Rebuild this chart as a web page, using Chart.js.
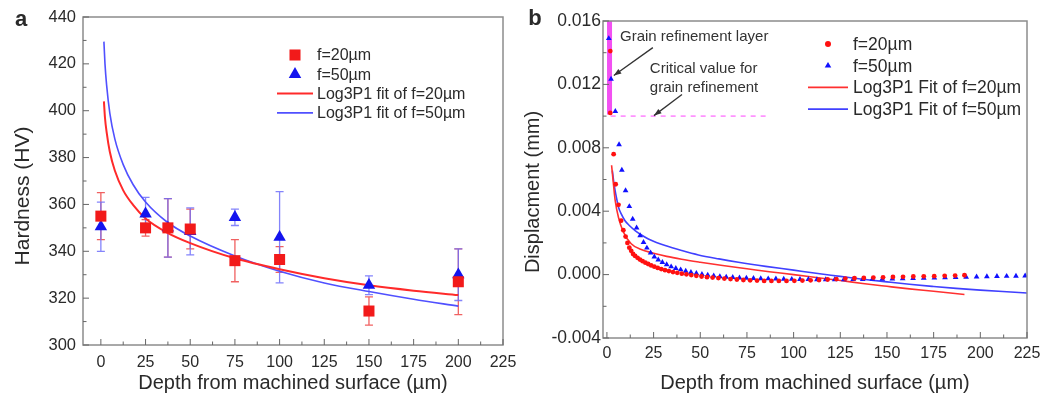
<!DOCTYPE html>
<html>
<head>
<meta charset="utf-8">
<script src="https://cdn.jsdelivr.net/npm/chart.js@4.4.0/dist/chart.umd.min.js"></script>
<style>
html, body { margin: 0; padding: 0; background: #fff; }
#wrap { position: relative; width: 1053px; height: 399px; overflow: hidden; }
canvas { position: absolute; top: 0; }
#chartA { left: 0; }
#chartB { left: 510px; }
</style>
</head>
<body>
<div id="wrap">
  <canvas id="chartA" width="526" height="399"></canvas>
  <canvas id="chartB" width="543" height="399"></canvas>
</div>
<script>
// ---- (a) hardness vs depth ----
var depthA = [0, 25, 37.5, 50, 75, 100, 150, 200];
var hard20 = [355, 350, 350, 349.5, 336, 336.5, 314.5, 327];
var hard20Err = [10, 3.5, 12.5, 8.5, 9, 5.5, 6, 14];
var hard50 = [350.5, 356, 350, 348.5, 354.5, 346, 325.5, 330];
var hard50Err = [10.5, 7, 12.5, 10, 3.5, 19.5, 4, 11];

var fitDepthA = [1.7, 2.3, 3.2, 5, 7.8, 12.5, 18, 25, 37, 50, 75, 100, 125, 150, 175, 200];
var fitHard20 = [404, 397, 391, 382.5, 374.5, 366, 359.8, 354, 348, 343.5, 337, 332.3, 328.5, 325.5, 323.2, 321.3];
var fitHard50 = [429.5, 420, 411, 399, 388, 377, 368.5, 361, 352.5, 346.5, 338, 331.5, 326.5, 322.8, 319.5, 316.6];

var xTicksA = [0, 25, 50, 75, 100, 125, 150, 175, 200, 225];
var xMinorA = [12.5, 37.5, 62.5, 87.5, 112.5, 137.5, 162.5, 187.5, 212.5];
var yTicksA = [300, 320, 340, 360, 380, 400, 420, 440];
var yMinorA = [310, 330, 350, 370, 390, 410, 430];

// ---- (b) displacement vs depth ----
var depth20B = [1.8, 1.8, 3.6, 4.7, 6.2, 7.6, 8.8, 10.0, 11.0, 12.0, 13.0, 14.0, 15.1, 16.4, 17.7,
  19.1, 20.6, 22.1, 23.7, 25.4, 27.2, 29.1, 31.1, 33.2, 35.4, 37.7, 40.1, 42.6, 45.2, 47.9,
  50.7, 53.6, 56.6, 59.7, 62.9, 66.2, 69.6, 73.1, 76.7, 80.4, 84.2, 88.1, 92.1, 96.2, 100.4,
  104.7, 109.1, 113.6, 118.2, 122.9, 127.7, 132.6, 137.6, 142.7, 147.9, 153.2, 158.6, 164.1,
  169.7, 175.3, 180.9, 186.5, 191.5];
var disp20B = [0.0141, 0.0102, 0.0076, 0.0057, 0.0044, 0.0034, 0.0028, 0.0024, 0.0020, 0.0017, 0.0015, 0.0013, 0.00118, 0.00106, 0.00095,
  0.00085, 0.00075, 0.00067, 0.00058, 0.0005, 0.00042, 0.00035, 0.00028, 0.00022, 0.00016, 0.00011, 0.00006, 0.00002, -0.00003, -0.00008,
  -0.00012, -0.00016, -0.00019, -0.00022, -0.00025, -0.00028, -0.00031, -0.00034, -0.00036, -0.00038, -0.0004, -0.0004, -0.0004, -0.0004, -0.00039,
  -0.00038, -0.00036, -0.00034, -0.00031, -0.00028, -0.00025, -0.00023, -0.00021, -0.00019, -0.00017, -0.00015, -0.00014, -0.00012,
  -0.00011, -0.0001, -0.00008, -0.00006, -0.00004];

var depth50B = [1.0, 2.2, 4.5, 6.5, 8.0, 10.0, 12.0, 13.8, 15.9, 17.8, 19.6, 21.4, 23.4, 25.4, 27.5,
  29.7, 32.0, 34.4, 36.9, 39.5, 42.2, 45.0, 47.9, 50.9, 54.0, 57.2, 60.5, 63.9, 67.4, 71.0,
  74.7, 78.5, 82.4, 86.4, 90.5, 94.7, 99.0, 103.4, 107.9, 112.5, 117.2, 122.0, 126.9, 131.9, 137.0,
  142.2, 147.5, 152.9, 158.4, 164.0, 169.7, 175.4, 181.1, 186.8, 192.4, 198.0, 203.5, 208.9, 214.1, 219.1, 224.0];
var disp50B = [0.0149, 0.01234, 0.0103, 0.0082, 0.0066, 0.0053, 0.0043, 0.0035, 0.00295, 0.00246, 0.00204, 0.00168, 0.00137, 0.00112, 0.00093,
  0.00078, 0.00063, 0.0005, 0.0004, 0.00031, 0.00022, 0.00014, 0.00008, 0.00002, -0.00003, -0.00008, -0.00012, -0.00015, -0.00017, -0.0002,
  -0.00022, -0.00023, -0.00025, -0.00026, -0.00027, -0.00028, -0.00029, -0.0003, -0.0003, -0.00031, -0.00031, -0.00031, -0.00031, -0.0003, -0.0003,
  -0.00029, -0.00028, -0.00027, -0.00026, -0.00024, -0.00022, -0.00021, -0.00019, -0.00017, -0.00016, -0.00014, -0.00013, -0.00011, -0.0001, -0.00009, -0.00008];

var fitDepth20B = [2.5, 3.5, 4.4, 6.2, 8.8, 13, 18, 25, 32, 40, 50, 62, 75, 87, 100, 112, 125, 137, 150, 162, 175, 184, 191.5];
var fitDisp20B = [0.0069, 0.0057, 0.0047, 0.0036, 0.0027, 0.00195, 0.0016, 0.00135, 0.00115, 0.00097, 0.00078, 0.00057, 0.00037, 0.00018, 0.0,
  -0.00018, -0.00037, -0.00056, -0.00074, -0.0009, -0.00105, -0.00116, -0.00126];
var fitDepth50B = [2.9, 3.6, 4.4, 5.2, 6.2, 7.8, 9.7, 12, 15.1, 18.5, 22.2, 26.5, 31.2, 40, 49, 60, 70.4, 85, 100, 112, 125, 137, 150, 162, 175, 187, 200, 212, 225];
var fitDisp50B = [0.00656, 0.0059, 0.0053, 0.0048, 0.00425, 0.0038, 0.0034, 0.0031, 0.00278, 0.0025, 0.00225, 0.00203, 0.00183, 0.00152, 0.00124,
  0.00099, 0.00078, 0.00052, 0.00028, 0.00008, -0.00011, -0.00029, -0.00046, -0.00061, -0.00075, -0.00087, -0.00098, -0.00107, -0.00116];

// grain refinement layer bar and critical value line
var grainBarX = [1.4, 1.4];
var grainBarY = [0.016, 0.0101];
var criticalX = [2, 85];
var criticalY = [0.010, 0.010];

var xTicksB = [0, 25, 50, 75, 100, 125, 150, 175, 200, 225];
var xMinorB = [12.5, 37.5, 62.5, 87.5, 112.5, 137.5, 162.5, 187.5, 212.5];
var yTicksB = [-0.004, 0, 0.004, 0.008, 0.012, 0.016];
var yTickLabelsB = ['-0.004', '0.000', '0.004', '0.008', '0.012', '0.016'];
var yMinorB = [-0.002, 0.002, 0.006, 0.010, 0.014];

var FONT = '"Liberation Sans", Arial, sans-serif';
var TXT = '#2a2a2a';

function pts(xs, ys) {
  return xs.map(function (x, i) { return { x: x, y: ys[i] }; });
}

// error bars, drawn under the markers
var errorBars = {
  id: 'errorBars',
  beforeDatasetsDraw: function (chart) {
    var ctx = chart.ctx, xs = chart.scales.x, ys = chart.scales.y;
    chart.data.datasets.forEach(function (ds) {
      if (!ds.errors) return;
      ctx.save();
      ctx.strokeStyle = ds.errorColor;
      ctx.lineWidth = 1.3;
      ds.data.forEach(function (p, j) {
        var e = ds.errors[j];
        var px = xs.getPixelForValue(p.x);
        var t = ys.getPixelForValue(p.y + e), b = ys.getPixelForValue(p.y - e);
        ctx.beginPath();
        ctx.moveTo(px, t); ctx.lineTo(px, b);
        ctx.moveTo(px - 4, t); ctx.lineTo(px + 4, t);
        ctx.moveTo(px - 4, b); ctx.lineTo(px + 4, b);
        ctx.stroke();
      });
      ctx.restore();
    });
  }
};

// box frame, inward ticks, y title, panel letter, legend
var decor = {
  id: 'decor',
  afterDraw: function (chart, args, o) {
    var ctx = chart.ctx, a = chart.chartArea, xs = chart.scales.x, ys = chart.scales.y;
    ctx.save();
    ctx.strokeStyle = '#8c8c8c';
    ctx.lineWidth = 1.5;
    ctx.strokeRect(a.left, a.top, a.right - a.left, a.bottom - a.top);

    ctx.strokeStyle = '#666';
    ctx.lineWidth = 1;
    function xt(vals, len) {
      vals.forEach(function (v) {
        var p = xs.getPixelForValue(v);
        ctx.beginPath(); ctx.moveTo(p, a.bottom); ctx.lineTo(p, a.bottom - len); ctx.stroke();
      });
    }
    function yt(vals, len) {
      vals.forEach(function (v) {
        var p = ys.getPixelForValue(v);
        ctx.beginPath(); ctx.moveTo(a.left, p); ctx.lineTo(a.left + len, p); ctx.stroke();
      });
    }
    xt(o.xMajor, 6); xt(o.xMinor, 3.5);
    yt(o.yMajor, 6); yt(o.yMinor, 3.5);

    // y axis title
    ctx.fillStyle = TXT;
    ctx.font = o.yTitleSize + 'px ' + FONT;
    ctx.textAlign = 'center';
    ctx.textBaseline = 'middle';
    ctx.save();
    ctx.translate(o.yTitleX, o.yTitleY);
    ctx.rotate(-Math.PI / 2);
    ctx.fillText(o.yTitle, 0, 0);
    ctx.restore();

    // panel letter
    ctx.font = 'bold 22px ' + FONT;
    ctx.fillText(o.letter, o.letterX, o.letterY);

    // legend
    var L = o.legend;
    ctx.font = L.size + 'px ' + FONT;
    ctx.textAlign = 'left';
    L.items.forEach(function (idx, r) {
      var ds = chart.data.datasets[idx];
      var y = L.y + r * L.rowH;
      if (ds.showLine === false) {
        ctx.fillStyle = ds.backgroundColor;
        ctx.strokeStyle = ds.backgroundColor;
        Chart.helpers.drawPoint(ctx, { pointStyle: ds.pointStyle, radius: L.markR[r], rotation: 0, borderWidth: 0 }, L.markX, y);
      } else {
        ctx.strokeStyle = ds.borderColor;
        ctx.lineWidth = ds.borderWidth;
        ctx.beginPath(); ctx.moveTo(L.lineX0, y); ctx.lineTo(L.lineX1, y); ctx.stroke();
      }
      ctx.fillStyle = TXT;
      ctx.fillText(ds.label, L.textX, y + 1);
    });

    // annotations (panel b)
    if (o.notes) {
      ctx.font = '15px ' + FONT;
      ctx.fillStyle = '#333';
      o.notes.texts.forEach(function (t) {
        ctx.fillText(t.text, xs.getPixelForValue(t.x), ys.getPixelForValue(t.y));
      });
      ctx.strokeStyle = '#333';
      ctx.fillStyle = '#333';
      ctx.lineWidth = 1.3;
      o.notes.arrows.forEach(function (ar) {
        var x0 = xs.getPixelForValue(ar[0]), y0 = ys.getPixelForValue(ar[1]);
        var x1 = xs.getPixelForValue(ar[2]), y1 = ys.getPixelForValue(ar[3]);
        var ang = Math.atan2(y1 - y0, x1 - x0);
        ctx.beginPath(); ctx.moveTo(x0, y0); ctx.lineTo(x1, y1); ctx.stroke();
        ctx.beginPath();
        ctx.moveTo(x1, y1);
        ctx.lineTo(x1 - 8 * Math.cos(ang - 0.35), y1 - 8 * Math.sin(ang - 0.35));
        ctx.lineTo(x1 - 8 * Math.cos(ang + 0.35), y1 - 8 * Math.sin(ang + 0.35));
        ctx.closePath(); ctx.fill();
      });
    }
    ctx.restore();
  }
};

function axisX(min, max, ticks, height, padding) {
  return {
    type: 'linear', min: min, max: max,
    afterBuildTicks: function (s) { s.ticks = ticks.map(function (v) { return { value: v }; }); },
    afterFit: function (s) { s.height = height; },
    grid: { display: false, drawTicks: false }, border: { display: false },
    ticks: { font: { family: FONT, size: 16 }, color: TXT, padding: padding, maxRotation: 0, autoSkip: false },
    title: { display: true, text: 'Depth from machined surface (µm)', font: { family: FONT, size: 20 }, color: TXT, padding: { top: 0, bottom: 4 } }
  };
}

// ---- chart a ----
new Chart(document.getElementById('chartA'), {
  type: 'scatter',
  data: {
    datasets: [
      { label: 'f=20µm', data: pts(depthA, hard20), errors: hard20Err, errorColor: 'rgba(238,80,80,0.9)',
        showLine: false, pointStyle: 'rect', pointRadius: 7.8, backgroundColor: '#f21a1a', borderColor: '#f21a1a', borderWidth: 0 },
      { label: 'f=50µm', data: pts(depthA, hard50), errors: hard50Err, errorColor: 'rgba(110,110,250,0.85)',
        showLine: false, pointStyle: 'triangle', pointRadius: 7.2, backgroundColor: '#1414ee', borderColor: '#1414ee', borderWidth: 0 },
      { label: 'Log3P1 fit of f=20µm', type: 'line', data: pts(fitDepthA, fitHard20), borderColor: '#ff2a2a', borderWidth: 2,
        pointRadius: 0, tension: 0.4, cubicInterpolationMode: 'monotone', fill: false },
      { label: 'Log3P1 fit of f=50µm', type: 'line', data: pts(fitDepthA, fitHard50), borderColor: '#5050ff', borderWidth: 1.6,
        pointRadius: 0, tension: 0.4, cubicInterpolationMode: 'monotone', fill: false }
    ]
  },
  options: {
    responsive: false, animation: false,
    layout: { padding: { left: 0, top: 17, right: 23, bottom: 0 } },
    plugins: {
      legend: { display: false }, tooltip: { enabled: false },
      decor: {
        xMajor: xTicksA, xMinor: xMinorA, yMajor: yTicksA, yMinor: yMinorA,
        yTitle: 'Hardness (HV)', yTitleSize: 21, yTitleX: 23, yTitleY: 196,
        letter: 'a', letterX: 21, letterY: 20,
        legend: { items: [0, 1, 2, 3], y: 55, rowH: 19.3, size: 16, markX: 295, markR: [7.8, 7.2], lineX0: 277, lineX1: 313, textX: 317 }
      }
    },
    scales: {
      x: axisX(-10, 225, xTicksA, 54, 8),
      y: {
        type: 'linear', min: 300, max: 440,
        afterBuildTicks: function (s) { s.ticks = yTicksA.map(function (v) { return { value: v }; }); },
        afterFit: function (s) { s.width = 83; },
        grid: { display: false, drawTicks: false }, border: { display: false },
        ticks: { font: { family: FONT, size: 16.5 }, color: TXT, padding: 7 }
      }
    }
  },
  plugins: [errorBars, decor]
});

// ---- chart b ----
new Chart(document.getElementById('chartB'), {
  type: 'scatter',
  data: {
    datasets: [
      { label: 'f=20µm', data: pts(depth20B, disp20B), showLine: false, pointStyle: 'circle', pointRadius: 2.4,
        backgroundColor: '#ff1010', borderColor: '#ff1010', borderWidth: 0 },
      { label: 'f=50µm', data: pts(depth50B, disp50B), showLine: false, pointStyle: 'triangle', pointRadius: 3.3,
        backgroundColor: '#1010ff', borderColor: '#1010ff', borderWidth: 0 },
      { label: 'Log3P1 Fit of f=20µm', type: 'line', data: pts(fitDepth20B, fitDisp20B), borderColor: '#ff3030', borderWidth: 1.6,
        pointRadius: 0, tension: 0.4, cubicInterpolationMode: 'monotone', fill: false },
      { label: 'Log3P1 Fit of f=50µm', type: 'line', data: pts(fitDepth50B, fitDisp50B), borderColor: '#4040ff', borderWidth: 1.6,
        pointRadius: 0, tension: 0.4, cubicInterpolationMode: 'monotone', fill: false },
      { label: 'grain layer', type: 'line', data: pts(grainBarX, grainBarY), borderColor: 'rgb(242,80,242)', borderWidth: 5,
        borderCapStyle: 'butt', pointRadius: 0, fill: false },
      { label: 'critical', type: 'line', data: pts(criticalX, criticalY), borderColor: 'rgb(255,130,255)', borderWidth: 1.5,
        borderDash: [5, 5], pointRadius: 0, fill: false }
    ]
  },
  options: {
    responsive: false, animation: false,
    layout: { padding: { left: 0, top: 21, right: 26, bottom: 0 } },
    plugins: {
      legend: { display: false }, tooltip: { enabled: false },
      decor: {
        xMajor: xTicksB, xMinor: xMinorB, yMajor: yTicksB, yMinor: yMinorB,
        yTitle: 'Displacment (mm)', yTitleSize: 20, yTitleX: 23, yTitleY: 192,
        letter: 'b', letterX: 25, letterY: 19,
        legend: { items: [0, 1, 2, 3], y: 44, rowH: 21.7, size: 17.5, markX: 318, markR: [3, 3.8], lineX0: 298, lineX1: 338, textX: 343 },
        notes: {
          texts: [
            { text: 'Grain refinement layer', x: 7, y: 0.0150 },
            { text: 'Critical value for', x: 23, y: 0.0130 },
            { text: 'grain refinement', x: 23, y: 0.0118 }
          ],
          arrows: [[24.6, 0.01432, 3.7, 0.01256], [40.2, 0.01136, 25.2, 0.01003]]
        }
      }
    },
    scales: {
      x: axisX(-2.1, 225, xTicksB, 61, 6),
      y: {
        type: 'linear', min: -0.004, max: 0.016,
        afterBuildTicks: function (s) { s.ticks = yTicksB.map(function (v) { return { value: v }; }); },
        afterFit: function (s) { s.width = 93; },
        grid: { display: false, drawTicks: false }, border: { display: false },
        ticks: { font: { family: FONT, size: 17.5 }, color: TXT, padding: 2,
          callback: function (v, i) { return yTickLabelsB[i]; } }
      }
    }
  },
  plugins: [decor]
});
</script>
</body>
</html>
